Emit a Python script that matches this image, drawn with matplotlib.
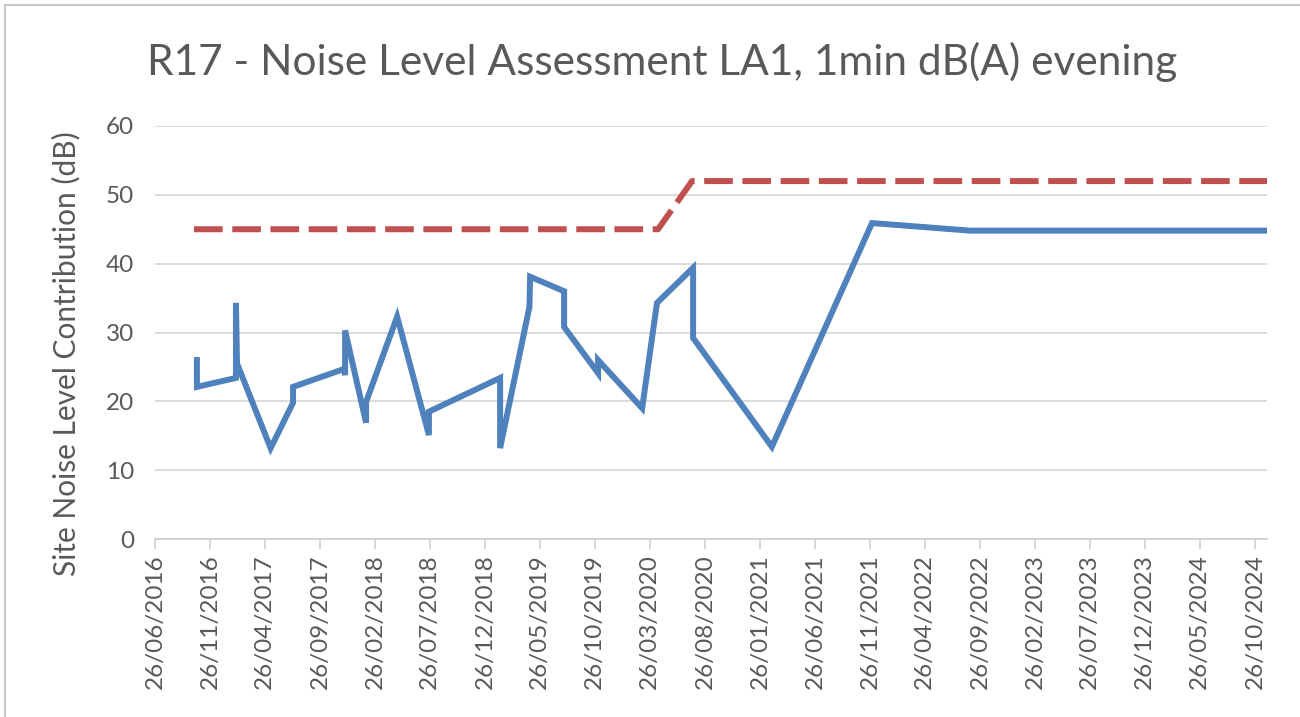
import matplotlib
matplotlib.use("Agg")
import matplotlib.pyplot as plt
from matplotlib.lines import Line2D
import pandas as pd

# site noise contribution (blue)
site_dates = [
    "2016-10-20", "2016-10-20", "2017-02-05", "2017-02-05", "2017-02-08",
    "2017-05-12", "2017-07-13", "2017-07-13", "2017-12-01", "2017-12-04",
    "2017-12-04", "2018-01-31", "2018-01-31", "2018-04-27", "2018-07-24",
    "2018-07-24", "2019-02-06", "2019-02-06", "2019-04-28", "2019-04-30",
    "2019-08-02", "2019-08-02", "2019-11-04", "2019-11-04", "2020-03-05",
    "2020-04-15", "2020-07-24", "2020-07-24", "2021-02-27", "2021-12-01",
    "2022-08-29", "2024-11-28",
]
site_values = [
    26.0, 22.1, 23.4, 34.3, 25.5,
    13.2, 19.8, 22.1, 24.7, 23.8,
    30.3, 16.9, 19.9, 32.3, 15.1,
    18.5, 23.4, 13.2, 33.7, 38.1,
    36.0, 30.8, 24.1, 26.0, 19.0,
    34.3, 39.4, 29.2, 13.4, 45.9,
    44.8, 44.8,
]

# criteria (red dashed)
limit_dates = ["2016-10-12", "2020-04-18", "2020-07-21", "2024-11-28"]
limit_values = [45, 45, 52, 52]

tick_labels = [
    "26/06/2016", "26/11/2016", "26/04/2017", "26/09/2017", "26/02/2018",
    "26/07/2018", "26/12/2018", "26/05/2019", "26/10/2019", "26/03/2020",
    "26/08/2020", "26/01/2021", "26/06/2021", "26/11/2021", "26/04/2022",
    "26/09/2022", "26/02/2023", "26/07/2023", "26/12/2023", "26/05/2024",
    "26/10/2024",
]
y_ticks = [0, 10, 20, 30, 40, 50, 60]

grey = "#595959"
font = "Lato"

fig = plt.figure(figsize=(13, 7.17), dpi=100)
ax = fig.add_axes([155 / 1300, 1 - 539 / 717, (1267 - 155) / 1300, (539 - 126) / 717])

ax.plot(pd.to_datetime(limit_dates), limit_values, color="#c0504d", lw=4.3,
        linestyle=(0, (4.8, 1.6)), dash_capstyle="butt", zorder=3)
ax.plot(pd.to_datetime(site_dates), site_values, color="#4f81bd", lw=4.3,
        solid_joinstyle="miter", zorder=4)

ax.set_xlim(pd.Timestamp("2016-06-26"), pd.Timestamp("2024-11-28"))
ax.set_ylim(0, 60)

ticks = pd.to_datetime(tick_labels, dayfirst=True)
ax.set_xticks(ticks)
ax.set_xticklabels(tick_labels, rotation=90, fontsize=17.5, color=grey, family=font)
ax.set_yticks(y_ticks)
ax.set_yticklabels([str(v) for v in y_ticks], fontsize=17.5, color=grey, family=font)

ax.tick_params(axis="y", length=0, pad=15)
ax.tick_params(axis="x", length=7, width=1.2, color="#d0d0d0", pad=4)
ax.grid(axis="y", color="#d9d9d9", lw=1.3)
ax.set_axisbelow(True)
for side in ["left", "right", "top"]:
    ax.spines[side].set_visible(False)
ax.spines["bottom"].set_color("#d0d0d0")
ax.spines["bottom"].set_linewidth(1.3)

ax.set_ylabel("Site Noise Level Contribution (dB)", fontsize=21.5, color=grey,
              family=font)
ax.yaxis.set_label_coords((80 - 155) / 1112, (539 - 354) / 413)

fig.text(662 / 1300, 1 - 62 / 717,
         "R17 - Noise Level Assessment LA1, 1min dB(A) evening",
         ha="center", va="center", fontsize=30.5, color=grey, family=font)

# chart frame, only top and left edges visible in the crop
fig.add_artist(Line2D([5 / 1300, 1], [1 - 5 / 717, 1 - 5 / 717], color="#c8c8c8", lw=1.5))
fig.add_artist(Line2D([5 / 1300, 5 / 1300], [0, 1 - 5 / 717], color="#c8c8c8", lw=1.5))

fig.savefig("out.png", dpi=100, facecolor="white")
